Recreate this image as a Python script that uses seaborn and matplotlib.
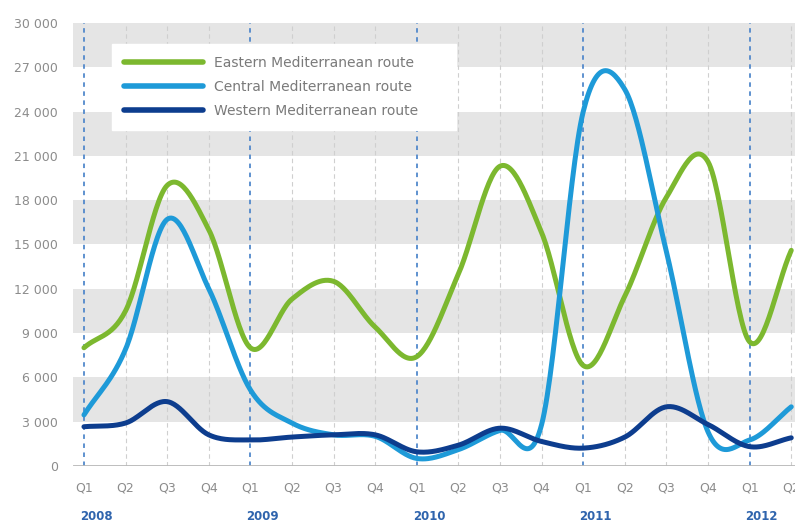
import numpy as np
import pandas as pd
import matplotlib
matplotlib.use("Agg")
import matplotlib.pyplot as plt
import seaborn as sns

# Quarterly detections of illegal border crossing, 2008 Q1 - 2012 Q2
quarters = ["Q1", "Q2", "Q3", "Q4"] * 4 + ["Q1", "Q2"]
years = ["2008", "2009", "2010", "2011", "2012"]

eastern = [8000, 10500, 19000, 16000, 8000, 11300, 12500, 9400, 7400, 13000,
           20300, 15800, 6800, 11500, 18200, 20600, 8400, 14600]
central = [3450, 7900, 16700, 12000, 5150, 2900, 2100, 2000, 500, 1100,
           2400, 2800, 24000, 25500, 14500, 2300, 1750, 4000]
western = [2650, 2900, 4350, 2100, 1750, 1950, 2100, 2100, 950, 1400,
           2550, 1650, 1200, 1950, 4000, 2800, 1300, 1900]

route_names = ["Eastern Mediterranean route", "Central Mediterranean route",
               "Western Mediterranean route"]
route_colors = ["#7cb82f", "#1e9ad8", "#0d3d8e"]

y_ticks = list(range(0, 30001, 3000))
y_tick_labels = ["0"] + [f"{v // 1000} 000" for v in y_ticks[1:]]


def smooth(values, per_seg=30):
    """Catmull-Rom spline through the quarterly points (like smoothed lines)."""
    p = np.asarray(values, dtype=float)
    n = len(p)
    xs, ys = [], []
    for i in range(n - 1):
        p0 = p[i - 1] if i > 0 else p[i]
        p1, p2 = p[i], p[i + 1]
        p3 = p[i + 2] if i + 2 < n else p[i + 1]
        m1 = (p2 - p0) / (2 if i > 0 else 1)
        m2 = (p3 - p1) / (2 if i + 2 < n else 1)
        t = np.linspace(0, 1, per_seg, endpoint=False)
        h00 = 2 * t**3 - 3 * t**2 + 1
        h10 = t**3 - 2 * t**2 + t
        h01 = -2 * t**3 + 3 * t**2
        h11 = t**3 - t**2
        xs.append(i + t)
        ys.append(h00 * p1 + h10 * m1 + h01 * p2 + h11 * m2)
    xs.append(np.array([n - 1.0]))
    ys.append(np.array([p[-1]]))
    return np.concatenate(xs), np.concatenate(ys)


frames = []
for name, vals in zip(route_names, [eastern, central, western]):
    sx, sy = smooth(vals)
    frames.append(pd.DataFrame({"q": sx, "value": sy, "route": name}))
df = pd.concat(frames, ignore_index=True)

sns.set_theme(style="white")
plt.rcParams["font.family"] = ["DejaVu Sans"]

fig = plt.figure(figsize=(7.95, 5.24), dpi=100)
ax = fig.add_axes([0.092, 0.111, 0.908, 0.845])

# alternating grey bands
for lo in range(3000, 30000, 6000):
    ax.axhspan(lo, lo + 3000, color="#e5e5e5", lw=0, zorder=0)

# quarter and year separators
for i in range(len(quarters)):
    if quarters[i] == "Q1":
        ax.axvline(i, color="#5289cb", lw=1.3, ls=(0, (2.5, 2.5)), zorder=1)
    else:
        ax.axvline(i, color="#cfcfcf", lw=0.8, ls=(0, (4, 3)), zorder=1)

ax.axhline(0, color="#b8b8b8", lw=2, zorder=1)

sns.lineplot(data=df, x="q", y="value", hue="route", hue_order=route_names,
             palette=route_colors, linewidth=3.6, ax=ax, zorder=3,
             legend=True, estimator=None, sort=False)

ax.set_xlim(-0.26, 17.09)
ax.set_ylim(0, 30000)
ax.set_xticks(range(len(quarters)))
ax.set_xticklabels(quarters)
ax.set_yticks(y_ticks)
ax.set_yticklabels(y_tick_labels)
ax.tick_params(axis="both", length=0, labelsize=9, labelcolor="#8c8c8c")
ax.tick_params(axis="y", pad=11)
ax.tick_params(axis="x", pad=11)
ax.set_xlabel("")
ax.set_ylabel("")
for s in ax.spines.values():
    s.set_visible(False)

# year labels under each Q1
year_pos = [i for i, q in enumerate(quarters) if q == "Q1"]
for pos, yr in zip(year_pos, years):
    ax.text(pos - 0.1, -0.115, yr, transform=ax.get_xaxis_transform(),
            ha="left", va="center", fontsize=8.5, fontweight="bold",
            color="#2f64ad")

leg = ax.legend(loc="upper left", bbox_to_anchor=(0.054, 0.952), frameon=True,
                fancybox=False, framealpha=1, facecolor="white",
                edgecolor="white", fontsize=10, handlelength=5.7,
                handletextpad=0.8, labelspacing=0.72, borderpad=0.85,
                borderaxespad=0)
for line in leg.get_lines():
    line.set_linewidth(4)
for t in leg.get_texts():
    t.set_color("#7a7a7a")
    t.set_text(t.get_text() + "      ")

fig.savefig("out.png", dpi=100)
